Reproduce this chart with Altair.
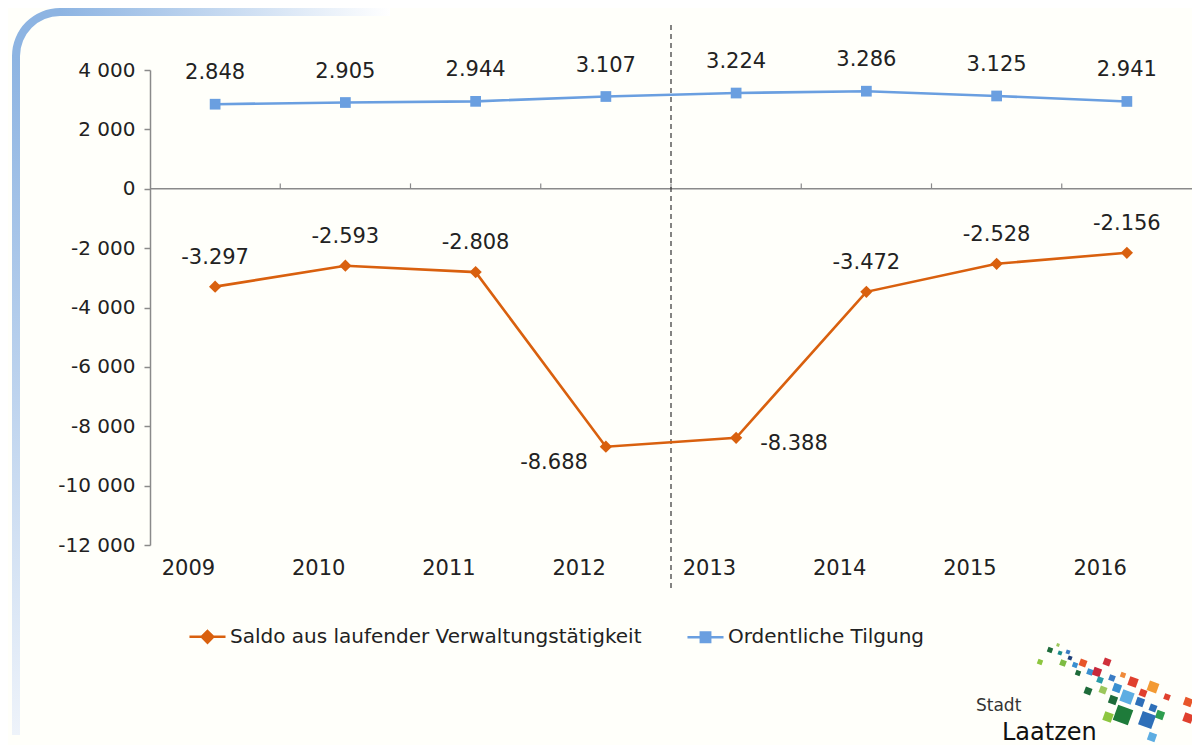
import altair as alt
import pandas as pd

# ---------------- data ----------------
years = ["2009", "2010", "2011", "2012", "2013", "2014", "2015", "2016"]
saldo = [-3297, -2593, -2808, -8688, -8388, -3472, -2528, -2156]
tilgung = [2848, 2905, 2944, 3107, 3224, 3286, 3125, 2941]
series_names = ["Saldo aus laufender Verwaltungstätigkeit", "Ordentliche Tilgung"]
y_ticks = [4000, 2000, 0, -2000, -4000, -6000, -8000, -10000, -12000]
divider_year = ["2013"]
logo_small = "Stadt"
logo_big = "Laatzen"

# decorative logo squares (pixel positions inside the drawing, not data)
logo_sq_x = [900, 908, 890, 910, 918, 913, 920, 925, 933, 957, 928, 940, 947, 973, 950, 962,
             983, 938, 953, 967, 1003, 993, 1017, 963, 977, 990, 1003, 1010, 1038, 958, 973, 997,
             1038, 1002]
logo_sq_y = [580, 575, 592, 583, 582, 593, 588, 595, 593, 592, 603, 602, 602, 605, 610, 608,
             612, 621, 620, 618, 617, 623, 627, 630, 627, 632, 638, 645, 632, 647, 645, 650,
             648, 667]
logo_sq_s = [5, 3, 5, 4, 4, 6, 4, 5, 7, 7, 5, 6, 8, 5, 6, 6,
             9, 7, 7, 8, 10, 7, 6, 8, 12, 8, 7, 8, 8, 9, 16, 14,
             9, 8]
logo_sq_c = ["#1E6B3A", "#9CC75B", "#8DC63F", "#1A8C8C", "#3A7CC4", "#7DBB42", "#1F3F7A", "#3A8FD0",
             "#E8562A", "#D0303A", "#1E6B3A", "#3A8FD0", "#C8283A", "#F08A3A", "#2A9BA8", "#3A7CC4",
             "#E0402E", "#1E6B3A", "#9CC75B", "#3A8FD0", "#F39A33", "#E0402E", "#E0402E", "#1E6B3A",
             "#5DADE2", "#2E6FB8", "#2E6FB8", "#2E9E4E", "#E8562A", "#8DC63F", "#1E7B3A", "#2E6FB8",
             "#E0402E", "#5DADE2"]

# ---------------- style ----------------
FONT = "DejaVu Sans"
TXT = "#222222"
AX = "#8a8a8a"
colors = ["#D9600E", "#6A9FE0"]
marker_shapes = ["diamond", "square"]
legend_paths = [
    "M-1,0H1M0,-0.32L0.32,0L0,0.32L-0.32,0Z",
    "M-1,0H1M-0.26,-0.26H0.26V0.26H-0.26Z",
]
W, H = 1042, 475


def de(v):
    return f"{v:,}".replace(",", ".")


rows = []
for s, vals in zip(series_names, [saldo, tilgung]):
    for yr, v in zip(years, vals):
        rows.append(dict(year=yr, series=s, value=v, label=de(v)))
df = pd.DataFrame(rows)

xscale = alt.Scale(type="band", domain=years, paddingInner=0, paddingOuter=0)
yscale = alt.Scale(domain=[-12000, 4000], nice=False, zero=False)

x_enc = alt.X(
    "year:O",
    scale=xscale,
    axis=alt.Axis(
        title=None, orient="bottom", domain=False, ticks=False, labelAngle=0,
        labelPadding=23, labelFontSize=21, labelColor=TXT, labelFont=FONT,
    ),
)
y_enc = alt.Y(
    "value:Q",
    scale=yscale,
    axis=alt.Axis(
        title=None, values=y_ticks, grid=False, domainColor=AX, domainWidth=1.5,
        tickColor=AX, tickSize=6, tickWidth=1.5, labelPadding=9, labelFontSize=20,
        labelColor=TXT, labelFont=FONT,
        labelExpr="replace(replace(format(datum.value, ','), ',', ' '), '\u2212', '-')",
    ),
)

base = alt.Chart(df).encode(x=x_enc, y=y_enc)

layers = []

# decoration frame (top-left rounded blue border)
deco = alt.Chart(pd.DataFrame({"a": [0]}))
grad_h = {"gradient": "linear", "x1": 0, "y1": 0, "x2": 1, "y2": 0,
          "stops": [{"offset": 0, "color": "#8DB4E2"}, {"offset": 1, "color": "#ffffff"}]}
grad_v = {"gradient": "linear", "x1": 0, "y1": 0, "x2": 0, "y2": 1,
          "stops": [{"offset": 0, "color": "#8DB4E2"}, {"offset": 1, "color": "#eef3fa"}]}
layers.append(deco.mark_rect(fill=grad_h).encode(
    x=alt.value(-90), x2=alt.value(240), y=alt.value(-62), y2=alt.value(-54)))
layers.append(deco.mark_rect(fill=grad_v).encode(
    x=alt.value(-138), x2=alt.value(-130), y=alt.value(-14), y2=alt.value(665)))
layers.append(deco.mark_arc(theta=4.7124, theta2=6.2832, radius=48, radius2=40,
                            color="#8DB4E2").encode(x=alt.value(-90), y=alt.value(-14)))

# zero line with category boundary ticks
layers.append(alt.Chart(pd.DataFrame({"v": [0]})).mark_rule(color=AX, strokeWidth=1.5).encode(
    y=alt.Y("v:Q", scale=yscale)))
layers.append(alt.Chart(pd.DataFrame({"year": years[1:]})).mark_rule(color=AX, strokeWidth=1.2).encode(
    x=alt.X("year:O", scale=xscale, bandPosition=0),
    y=alt.datum(0), y2=alt.datum(180)))

# dashed divider
layers.append(alt.Chart(pd.DataFrame({"year": divider_year})).mark_rule(
    color="#333333", strokeWidth=1.2, strokeDash=[5, 4]).encode(
    x=alt.X("year:O", scale=xscale, bandPosition=0),
    y=alt.value(-45), y2=alt.value(520)))

# legend source layer (hidden under markers)
leg = alt.Legend(title=None, orient="none", legendX=38, legendY=547, direction="horizontal",
                 labelFont=FONT, labelFontSize=20, labelColor=TXT, labelLimit=0, symbolSize=1300,
                 symbolStrokeWidth=2.5, columnPadding=40, labelOffset=3)
sc_col = alt.Scale(domain=series_names, range=colors)
sc_shape = alt.Scale(domain=series_names, range=legend_paths)
layers.append(base.mark_point(filled=True, size=14, strokeWidth=2.5, opacity=1).encode(
    fill=alt.Fill("series:N", scale=sc_col, legend=leg, sort=series_names),
    stroke=alt.Stroke("series:N", scale=sc_col, legend=leg, sort=series_names),
    shape=alt.Shape("series:N", scale=sc_shape, legend=leg, sort=series_names),
))

# lines and markers
for s, c, shp in zip(series_names, colors, marker_shapes):
    sub = base.transform_filter(alt.datum.series == s)
    layers.append(sub.mark_line(color=c, strokeWidth=2.6))
    layers.append(sub.mark_point(filled=True, color=c, shape=shp,
                                 size=150 if shp == "diamond" else 115, opacity=1))

# data labels
lab = dict(font=FONT, fontSize=21, color=TXT)
layers.append(base.transform_filter(alt.datum.series == series_names[1]).mark_text(
    dy=-31, **lab).encode(text="label:N"))
layers.append(base.transform_filter(
    (alt.datum.series == series_names[0]) & (alt.datum.year != "2012") & (alt.datum.year != "2013")
).mark_text(dy=-29, **lab).encode(text="label:N"))
layers.append(base.transform_filter(
    (alt.datum.series == series_names[0]) & (alt.datum.year == "2012")
).mark_text(dy=16, dx=-18, align="right", **lab).encode(text="label:N"))
layers.append(base.transform_filter(
    (alt.datum.series == series_names[0]) & (alt.datum.year == "2013")
).mark_text(dy=6, dx=24, align="left", **lab).encode(text="label:N"))

# logo
logo_df = pd.DataFrame({"px": logo_sq_x, "py": logo_sq_y, "s": logo_sq_s, "c": logo_sq_c})
layers.append(alt.Chart(logo_df).transform_calculate(area="datum.s * datum.s").mark_point(
    shape="square", filled=True, opacity=1, angle=20).encode(
    x=alt.X("px:Q", scale=None), y=alt.Y("py:Q", scale=None),
    size=alt.Size("area:Q", scale=None, legend=None),
    color=alt.Color("c:N", scale=None, legend=None)))
logo = alt.Chart(pd.DataFrame({"a": [0]}))
layers.append(logo.mark_text(font=FONT, fontSize=17, color="#333333", align="left").encode(
    x=alt.value(826), y=alt.value(636), text=alt.value(logo_small)))
layers.append(logo.mark_text(font=FONT, fontSize=24, color="#111111", align="left").encode(
    x=alt.value(852), y=alt.value(663), text=alt.value(logo_big)))

chart = alt.layer(*layers).properties(
    width=W, height=H,
    autosize=alt.AutoSizeParams(type="none"),
    padding={"left": 142, "top": 62, "right": 0, "bottom": 200},
    background="#fffffa",
).configure_view(stroke=None)

chart.save("out.html", embed_options={"renderer": "svg", "actions": False})
